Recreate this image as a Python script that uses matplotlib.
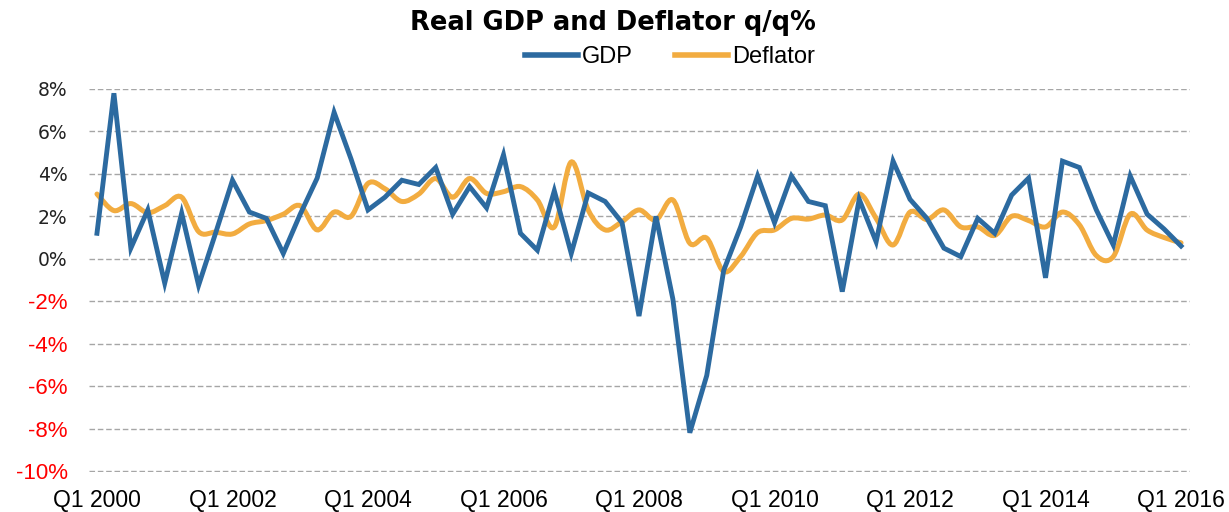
#!/usr/bin/env python3

import numpy as np
import matplotlib
matplotlib.use('agg')
import matplotlib.pyplot as plt
from matplotlib.path import Path
from matplotlib.patches import PathPatch
from matplotlib.lines import Line2D

# quarterly q/q % changes, Q1 2000 .. Q1 2016
gdp = [1.2, 7.8, 0.5, 2.3, -1.15, 2.15, -1.25, 1.2, 3.7, 2.2, 1.9, 0.25, 2.1, 3.8, 6.9, 4.7,
       2.3, 2.9, 3.7, 3.5, 4.3, 2.1, 3.4, 2.4, 4.9, 1.2, 0.4, 3.2, 0.25, 3.1, 2.7, 1.7,
       -2.7, 2.0, -1.9, -8.2, -5.5, -0.55, 1.5, 3.9, 1.7, 3.9, 2.7, 2.5, -1.55, 2.8, 0.8, 4.6,
       2.8, 1.9, 0.5, 0.1, 1.9, 1.2, 3.0, 3.8, -0.9, 4.6, 4.3, 2.3, 0.65, 3.9, 2.1, 1.4, 0.6]
deflator = [3.05, 2.27, 2.6, 2.17, 2.5, 2.9, 1.28, 1.25, 1.17, 1.64, 1.8, 2.1, 2.5, 1.36, 2.2, 2.0,
            3.55, 3.3, 2.7, 3.05, 3.78, 2.9, 3.78, 3.08, 3.16, 3.4, 2.77, 1.5, 4.56, 2.3, 1.36, 1.75,
            2.3, 1.83, 2.77, 0.73, 0.97, -0.6, 0.1, 1.23, 1.36, 1.9, 1.87, 2.06, 1.83, 3.05, 1.9, 0.65,
            2.2, 1.85, 2.3, 1.5, 1.5, 1.1, 2.0, 1.8, 1.5, 2.2, 1.6, 0.15, 0.1, 2.1, 1.35, 1.0, 0.75]
tick_labels = ['Q1 2000', 'Q1 2002', 'Q1 2004', 'Q1 2006', 'Q1 2008',
               'Q1 2010', 'Q1 2012', 'Q1 2014', 'Q1 2016']
y_ticks = [-10, -8, -6, -4, -2, 0, 2, 4, 6, 8]

BLUE = '#2C6AA0'
ORANGE = '#F2AC40'
ARIAL = ['Liberation Sans', 'DejaVu Sans']


def smooth_path(x, y):
    """Excel-like smoothed line as a chain of cubic Bezier segments"""
    pts = np.column_stack([x, y]).astype(float)
    padded = np.vstack([pts[0], pts, pts[-1]])
    verts = [pts[0]]
    codes = [Path.MOVETO]
    for i in range(len(pts) - 1):
        p0, p1, p2, p3 = padded[i], padded[i + 1], padded[i + 2], padded[i + 3]
        verts += [p1 + (p2 - p0) / 6.0, p2 - (p3 - p1) / 6.0, p2]
        codes += [Path.CURVE4] * 3
    return Path(verts, codes)


fig = plt.figure(figsize=(12.29, 5.12), dpi=100)
ax = fig.add_axes([88.5 / 1229, 1 - 472 / 512, 1101 / 1229, 383 / 512])

x = np.arange(len(gdp))
ax.plot(x, gdp, color=BLUE, lw=3.5, solid_joinstyle='miter', zorder=3)
ax.add_patch(PathPatch(smooth_path(x, deflator), fill=False, edgecolor=ORANGE,
                       lw=3.6, capstyle='round', zorder=2))

ax.set_xlim(-0.5, len(gdp) - 0.5)
ax.set_ylim(-10.05, 8)
ax.set_yticks(y_ticks)
ax.set_yticklabels(['%d%%' % v for v in y_ticks])
ax.set_xticks(range(0, len(gdp), 8))
ax.set_xticklabels(tick_labels, family=ARIAL, fontsize=16.5)
ax.tick_params(length=0)
ax.tick_params(axis='y', pad=15)
ax.tick_params(axis='x', pad=12)
for v, lab in zip(y_ticks, ax.get_yticklabels()):
    if v < 0:
        lab.set_color('#FF0000')
        lab.set_family(ARIAL)
        lab.set_fontsize(16)
    else:
        lab.set_family('DejaVu Sans')
        lab.set_fontsize(13.5)
        lab.set_color('#222222')

ax.grid(axis='y', color='#A6A6A6', linestyle=(0, (4, 2)), lw=1)
ax.set_axisbelow(True)
for s in ax.spines.values():
    s.set_visible(False)

fig.text(0.499, 0.955, 'Real GDP and Deflator q/q%', ha='center', va='center',
         fontsize=18.5, fontweight='bold', family='DejaVu Sans')
handles = [Line2D([], [], color=BLUE, lw=4), Line2D([], [], color=ORANGE, lw=4)]
fig.legend(handles, ['GDP', 'Deflator'], loc='center', bbox_to_anchor=(0.545, 0.889),
           ncol=2, frameon=False, prop={'family': ARIAL, 'size': 17},
           handlelength=2.25, handletextpad=0.15, columnspacing=1.8)

fig.savefig('out.png', dpi=100)
